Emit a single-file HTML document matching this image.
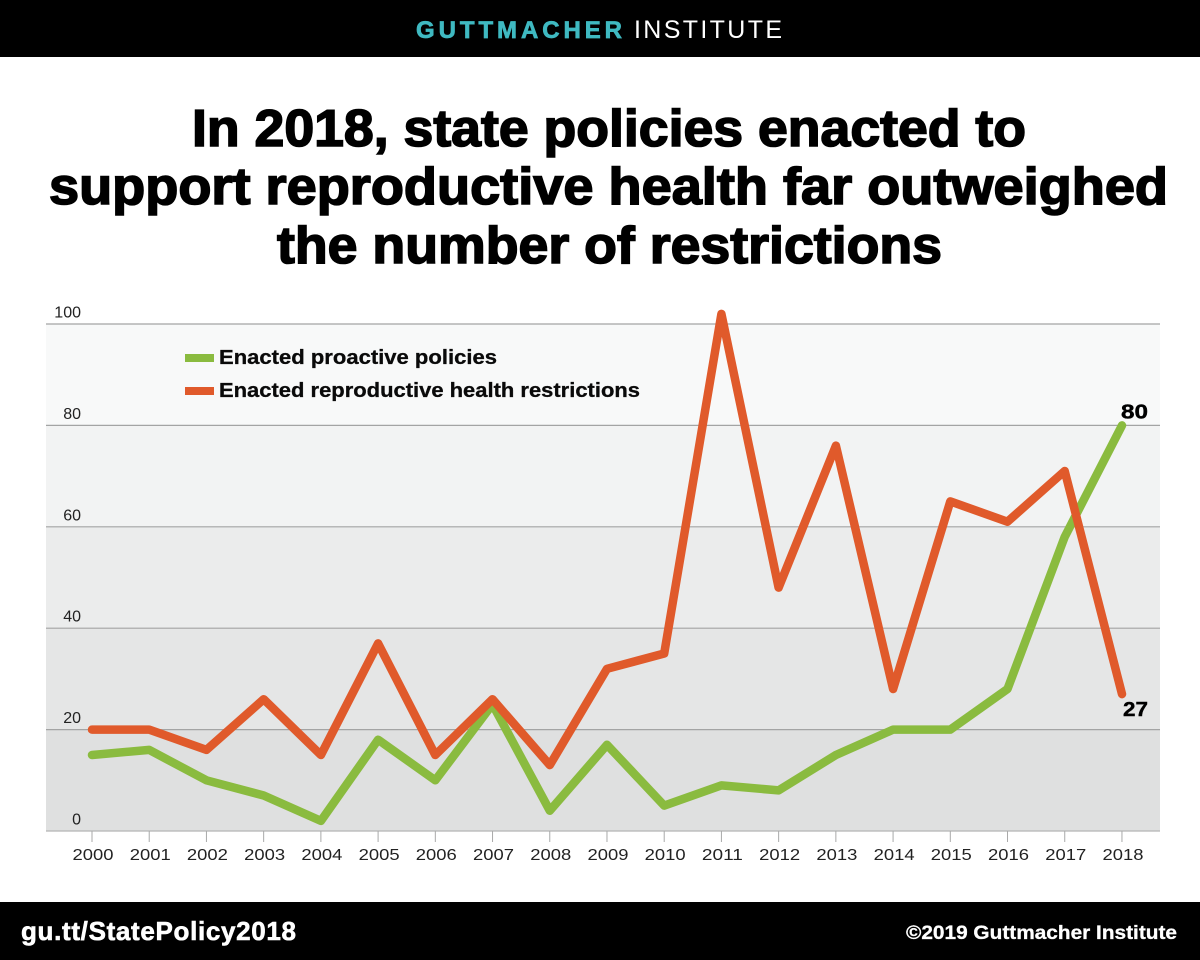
<!DOCTYPE html>
<html lang="en">
<head>
<meta charset="utf-8">
<title>Guttmacher Institute: State policies enacted, 2000-2018</title>
<style>
  html, body { margin: 0; padding: 0; background: #fff; }
  body { width: 1200px; height: 960px; overflow: hidden; }
  svg { display: block; font-family: "Liberation Sans", sans-serif; }
  .title { font-size: 52px; font-weight: bold; fill: #000; stroke: #000; stroke-width: 1.6px; }
  .legend { font-size: 20px; font-weight: bold; fill: #0a0a0a; stroke: #0a0a0a; stroke-width: 0.3px; }
  .tick { font-size: 16px; fill: #222; }
  .end { font-size: 20px; font-weight: bold; fill: #000; stroke: #000; stroke-width: 0.4px; }
</style>
</head>
<body>
<svg id="chart" xmlns="http://www.w3.org/2000/svg" width="1200" height="960" viewBox="0 0 1200 960">
  <rect x="0" y="0" width="1200" height="960" fill="#ffffff"/>

  <g>
    <rect x="0" y="0" width="1200" height="57" fill="#000"/>
    <text x="416" y="38" font-size="24" font-weight="bold" fill="#3fb9c1" stroke="#3fb9c1" stroke-width="0.7" textLength="206" lengthAdjust="spacing">GUTTMACHER</text>
    <text x="634" y="38" font-size="25" fill="#fff" textLength="148" lengthAdjust="spacing">INSTITUTE</text>
  </g>

  <g>
    <text class="title" x="192" y="146" textLength="834" lengthAdjust="spacingAndGlyphs">In 2018, state policies enacted to</text>
    <text class="title" x="49" y="204" textLength="1119" lengthAdjust="spacingAndGlyphs">support reproductive health far outweighed</text>
    <text class="title" x="277" y="263" textLength="665" lengthAdjust="spacingAndGlyphs">the number of restrictions</text>
  </g>

  <g id="bands"></g>
  <g id="grid"></g>
  <g id="yAxis"></g>
  <g id="xAxis"></g>
  <g id="series"></g>
  <g id="endLabels"></g>

  <g>
    <g>
      <rect x="185" y="354" width="29" height="8" fill="#8abb3f"/>
      <text class="legend" x="219" y="364" textLength="278" lengthAdjust="spacingAndGlyphs">Enacted proactive policies</text>
    </g>
    <g>
      <rect x="185" y="387" width="29" height="8" fill="#e05a2b"/>
      <text class="legend" x="219" y="397" textLength="421" lengthAdjust="spacingAndGlyphs">Enacted reproductive health restrictions</text>
    </g>
  </g>

  <g>
    <rect x="0" y="902" width="1200" height="58" fill="#000"/>
    <text x="21" y="940" font-size="26" font-weight="bold" fill="#fff" stroke="#fff" stroke-width="0.6" textLength="275" lengthAdjust="spacing">gu.tt/StatePolicy2018</text>
    <text x="906" y="939" font-size="19" font-weight="bold" fill="#fff" stroke="#fff" stroke-width="0.3" textLength="271" lengthAdjust="spacingAndGlyphs">©2019 Guttmacher Institute</text>
  </g>
</svg>

<script>
const years = ["2000","2001","2002","2003","2004","2005","2006","2007","2008","2009","2010","2011","2012","2013","2014","2015","2016","2017","2018"];
const proactivePolicies = [15,16,10,7,2,18,10,25,4,17,5,9,8,15,20,20,28,58,80];
const restrictionPolicies = [20,20,16,26,15,37,15,26,13,32,35,102,48,76,28,65,61,71,27];
const yTickValues = [0,20,40,60,80,100];

const NS = "http://www.w3.org/2000/svg";
const plotLeft = 46, plotRight = 1160;
const yBase = 831, yPerUnit = 5.07;
const xFirst = 92, xStep = 57.22;

function xScale(i) { return xFirst + i * xStep; }
function yScale(v) { return yBase - v * yPerUnit; }
function bandColor(top) {
  const shade = Math.round(223 + (top - 20) * 0.31);
  return "rgb(" + shade + "," + (shade + 1) + "," + (shade + 1) + ")";
}
function make(tag, parentId, attrs, text) {
  const el = document.createElementNS(NS, tag);
  for (const k in attrs) el.setAttribute(k, attrs[k]);
  if (text !== undefined) el.textContent = text;
  document.getElementById(parentId).appendChild(el);
  return el;
}

yTickValues.slice(1).forEach(function (top, i) {
  const bottom = yTickValues[i];
  const band = make("rect", "bands", { x: plotLeft, y: yScale(top), width: plotRight - plotLeft, height: yScale(bottom) - yScale(top), fill: bandColor(top) });
  
  
});

yTickValues.forEach(function (v) {
  const line = make("line", "grid", { x1: plotLeft, x2: plotRight, y1: yScale(v), y2: yScale(v), stroke: v === 0 ? "#b4b5b5" : "#a3a4a4", "stroke-width": 1.2 });
  
  
  const label = make("text", "yAxis", { class: "tick", x: 81, y: yScale(v) - 6.5, "text-anchor": "end" }, String(v));
  
  
});

years.forEach(function (year, i) {
  const tick = make("line", "xAxis", { x1: xScale(i), x2: xScale(i), y1: yBase, y2: yBase + 11, stroke: "#a8a9a9", "stroke-width": 1 });
  
  
  const label = make("text", "xAxis", { class: "tick", x: xScale(i) + 1, y: 860, "text-anchor": "middle", textLength: 41, lengthAdjust: "spacingAndGlyphs" }, year);
  
  
});

function linePoints(values) {
  return values.map(function (v, i) { return xScale(i).toFixed(1) + "," + yScale(v).toFixed(1); }).join(" ");
}
const lineStyle = { fill: "none", "stroke-width": 8.5, "stroke-linejoin": "round", "stroke-linecap": "round" };

const greenLine = make("polyline", "series", Object.assign({ points: linePoints(proactivePolicies), stroke: "#8abb3f" }, lineStyle));



const redLine = make("polyline", "series", Object.assign({ points: linePoints(restrictionPolicies), stroke: "#e05a2b" }, lineStyle));



const lastIndex = years.length - 1;
const lastProactive = proactivePolicies[lastIndex];
const lastRestriction = restrictionPolicies[lastIndex];

const proactiveEnd = make("text", "endLabels", { class: "end", x: xScale(lastIndex) - 1, y: yScale(lastProactive) - 7, textLength: 27, lengthAdjust: "spacingAndGlyphs" }, String(lastProactive));



const restrictionEnd = make("text", "endLabels", { class: "end", x: xScale(lastIndex) + 1, y: yScale(lastRestriction) + 22, textLength: 25, lengthAdjust: "spacingAndGlyphs" }, String(lastRestriction));


</script>
</body>
</html>
